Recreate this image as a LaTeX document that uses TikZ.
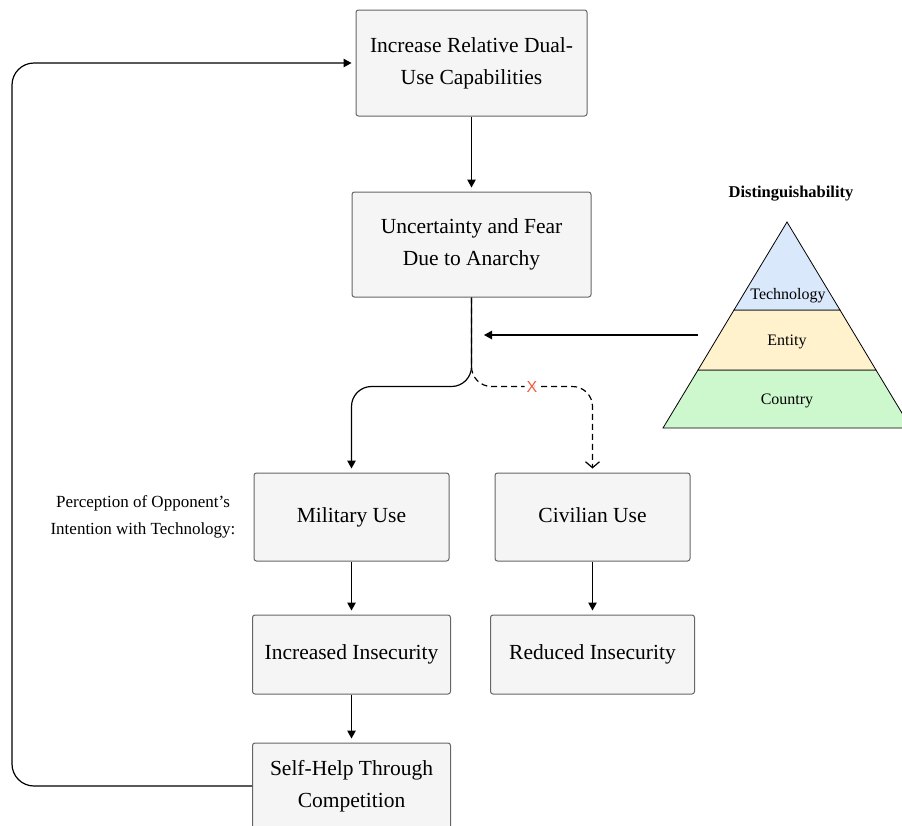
\documentclass[tikz,border=0pt]{standalone}
\usepackage{fontspec}
\setmainfont{Liberation Serif}
\newfontfamily\marksans{Liberation Sans}
\usepackage{tikz}
\usetikzlibrary{positioning,arrows.meta,calc}
\definecolor{boxfill}{HTML}{F5F5F5}
\definecolor{boxline}{HTML}{666666}
\definecolor{techblue}{HTML}{DAE8FC}
\definecolor{entyellow}{HTML}{FFF2CC}
\definecolor{ctrygreen}{HTML}{CDF7CD}
\definecolor{crossred}{HTML}{F25C3B}

\begin{document}
\begin{tikzpicture}[x=1pt,y=-1pt,>={Triangle[length=8pt,width=8.5pt]},
  box/.style={draw=boxline,line width=1pt,fill=boxfill,rounded corners=2.5pt,align=center,inner sep=0pt,font=\fontsize{21.5}{32}\selectfont,execute at end node={\vphantom{y}}},
  arr/.style={->,line width=1.2pt,shorten >=4pt},
  dasharr/.style={-{Straight Barb[length=6pt,width=14pt,line width=1.2pt]},line width=1.2pt,dash pattern=on 6pt off 4pt,shorten >=4pt},
  layer/.style={draw=black,line width=0.8pt},
  small/.style={font=\fontsize{16}{27}\selectfont}]
\useasboundingbox (0,0) rectangle (902,825);

\node[box,minimum width=231pt,minimum height=106pt] (capab) at (471.5,63) {Increase Relative Dual-\\Use Capabilities};
\node[box,below=75pt of capab,minimum width=239pt,minimum height=105pt] (fear) {Uncertainty and Fear\\Due to Anarchy};
\node[box,minimum width=195pt,minimum height=88pt] (military) at (351.5,517) {Military Use};
\node[box,right=45pt of military,minimum width=195pt,minimum height=88pt] (civilian) {Civilian Use};
\node[box,below=53pt of military,minimum width=198pt,minimum height=79pt] (insec) {Increased Insecurity};
\node[box,below=53pt of civilian,minimum width=204pt,minimum height=79pt] (reduced) {Reduced Insecurity};
\node[box,below=48pt of insec,minimum width=198pt,minimum height=86pt] (selfhelp) {Self-Help Through\\Competition};

\node[small,align=center,font=\fontsize{17}{27}\selectfont] (percep) at (143,517) {Perception of Opponent's\\Intention with Technology:};

% distinguishability pyramid
\filldraw[layer,fill=ctrygreen] (663,428) -- (911,428) -- (876,370) -- (698,370) -- cycle;
\filldraw[layer,fill=entyellow] (698,370) -- (876,370) -- (840,310) -- (734,310) -- cycle;
\filldraw[layer,fill=techblue] (734,310) -- (840,310) -- (787,222) -- cycle;
\node[small] (tech) at (788,296) {Technology};
\node[small] (entity) at (787,342) {Entity};
\node[small] (country) at (787,401) {Country};
\node[font=\fontsize{16.5}{20}\selectfont\bfseries] (disting) at (791,194) {Distinguishability};

\coordinate (entw) at (698,335);
\coordinate (join) at (484,335);
\coordinate (loop) at (12,0);

\draw[arr] (capab) -- (fear);
\draw[arr,rounded corners=20pt] (fear.south) -- ++(0,89) -| (military.north);
\draw[dasharr,rounded corners=20pt] (fear.south) -- ++(0,89) -| (civilian.north)
  node[pos=0.25,fill=white,inner sep=2pt,text=crossred,font=\marksans\fontsize{16}{18}\selectfont] (cross) {X};
\draw[arr] (military) -- (insec);
\draw[arr] (civilian) -- (reduced);
\draw[arr] (insec) -- (selfhelp);
\draw[arr,rounded corners=22pt] (selfhelp.west) -- (selfhelp.west -| loop) |- (capab.west);
\draw[->,line width=1.2pt] (entw) -- (join);
\end{tikzpicture}
\end{document}
